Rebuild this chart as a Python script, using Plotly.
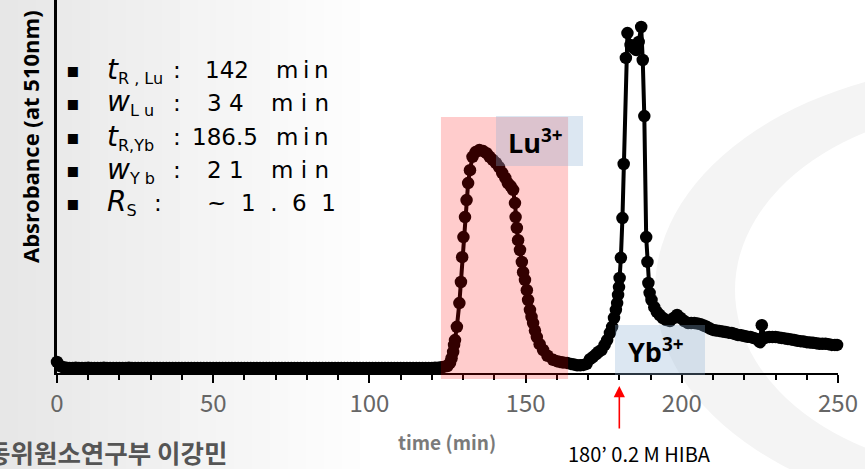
import plotly.graph_objects as go

# ---------------- data ----------------
time_min = [
    0, 1, 2, 3, 4, 5, 6, 7, 8, 9, 10, 11, 12, 13, 14, 15, 16, 17, 18, 19,
    20, 21, 22, 23, 24, 25, 26, 27, 28, 29, 30, 31, 32, 33, 34, 35, 36, 37, 38, 39,
    40, 41, 42, 43, 44, 45, 46, 47, 48, 49, 50, 51, 52, 53, 54, 55, 56, 57, 58, 59,
    60, 61, 62, 63, 64, 65, 66, 67, 68, 69, 70, 71, 72, 73, 74, 75, 76, 77, 78, 79,
    80, 81, 82, 83, 84, 85, 86, 87, 88, 89, 90, 91, 92, 93, 94, 95, 96, 97, 98, 99,
    100, 101, 102, 103, 104, 105, 106, 107, 108, 109, 110, 111, 112, 113, 114, 115,
    116, 117, 118, 119, 120, 121, 122, 123, 124, 125.0, 125.8, 126.3, 126.8,
    127.1, 127.4, 128.0, 128.8, 129.3, 129.7, 130.1, 130.6, 131.1, 131.6, 132.2,
    133.0, 134.0, 135.2, 136.4, 137.5, 138.5, 139.5, 140.5, 141.5, 142.5, 143.5,
    144.3, 145.2, 146.0, 146.6, 146.8, 147.2, 147.6, 148.2, 148.8, 149.2, 149.8,
    150.4, 150.8, 151.4, 151.9, 152.4, 153.0, 153.6, 154.5, 155.6, 157.0, 158.8,
    160.0, 161.0, 162.0, 163.3, 164.5, 165.5, 166.5, 167.5, 168.5, 169.5, 170.6,
    171.5, 172.5, 173.3, 174.3, 175.3, 176.1, 177.0, 177.7, 178.3, 178.9, 179.3,
    179.6, 179.9, 180.1, 180.5, 181.0, 181.4, 182.1, 182.6, 183.6, 184.6, 185.4,
    186.2, 187.0, 187.5, 188.0, 188.6, 189.0, 189.3, 189.7, 190.3, 191.2, 192.0,
    192.9, 193.9, 195.0, 196.2, 197.4, 198.5, 199.6, 200.8, 202, 203, 204, 205,
    206, 207, 208, 209, 210, 211, 212, 213, 214, 215, 216, 217, 218, 219, 220,
    221, 222, 223, 224, 225, 225.6, 226.4, 227, 228, 229, 230, 231, 232, 233,
    234, 235, 236, 237, 238, 239, 240, 241, 242, 243, 244, 245, 246, 247, 248,
    249, 249.7,
]
absorbance = [
    0.018, 0.006, 0.002, 0.001, 0.000, 0.000, 0.001, 0.000, 0.000, 0.000,
    0.001, 0.000, 0.000, 0.000, 0.000, 0.001, 0.000, 0.000, 0.000, 0.000,
    0.000, 0.000, 0.000, 0.001, 0.000, 0.000, 0.000, 0.000, 0.000, 0.000,
    0.000, 0.000, 0.000, 0.000, 0.000, 0.000, 0.000, 0.000, 0.000, 0.000,
    0.000, 0.000, 0.000, 0.000, 0.000, 0.000, 0.000, 0.000, 0.000, 0.000,
    0.000, 0.000, 0.000, 0.000, 0.000, 0.000, 0.000, 0.000, 0.000, 0.000,
    0.000, 0.000, 0.000, 0.000, 0.000, 0.000, 0.000, 0.000, 0.000, 0.000,
    0.000, 0.000, 0.000, 0.000, 0.000, 0.000, 0.000, 0.000, 0.000, 0.000,
    0.000, 0.000, 0.000, 0.000, 0.000, 0.000, 0.000, 0.000, 0.000, 0.000,
    0.000, 0.000, 0.000, 0.000, 0.000, 0.000, 0.000, 0.000, 0.000, 0.000,
    0.000, 0.000, 0.000, 0.000, 0.000, 0.000, 0.000, 0.000, 0.000, 0.000,
    0.000, 0.000, 0.000, 0.000, 0.000, 0.000, 0.000, 0.000, 0.000, 0.000,
    0.000, 0.001, 0.001, 0.002, 0.004, 0.006, 0.015, 0.029, 0.047,
    0.068, 0.082, 0.121, 0.191, 0.253, 0.326, 0.385, 0.444, 0.494, 0.544, 0.582,
    0.621, 0.635, 0.641, 0.638, 0.632, 0.621, 0.612, 0.603, 0.591, 0.574, 0.559,
    0.544, 0.535, 0.524, 0.485, 0.444, 0.412, 0.376, 0.347, 0.312, 0.282, 0.259,
    0.229, 0.200, 0.171, 0.150, 0.132, 0.110, 0.091, 0.070, 0.053, 0.036, 0.024,
    0.020, 0.018, 0.016, 0.015, 0.012, 0.010, 0.008, 0.008, 0.009, 0.012, 0.026,
    0.032, 0.040, 0.047, 0.053, 0.068, 0.082, 0.103, 0.121, 0.147, 0.171, 0.191,
    0.215, 0.238, 0.265, 0.324, 0.441, 0.600, 0.912, 0.985, 0.950, 0.941, 0.935,
    0.959, 1.003, 0.906, 0.741, 0.385, 0.312, 0.250, 0.221, 0.200, 0.179, 0.165,
    0.156, 0.147, 0.141, 0.138, 0.147, 0.156, 0.147, 0.138, 0.132, 0.132, 0.132, 0.131,
    0.129, 0.125, 0.121, 0.116, 0.112, 0.110, 0.109, 0.107, 0.106, 0.104, 0.103, 0.100, 0.097, 0.096, 0.094,
    0.092, 0.091, 0.088, 0.085, 0.076, 0.126, 0.088, 0.090, 0.091, 0.091, 0.091, 0.090, 0.088, 0.087,
    0.085, 0.084, 0.082, 0.080, 0.079, 0.078, 0.076, 0.075, 0.074, 0.073, 0.071, 0.071, 0.071, 0.070,
    0.068, 0.068, 0.068,
]

x_tick_vals = [0, 50, 100, 150, 200, 250]
x_tick_text = ["0", "50", "100", "150", "200", "250"]

info_symbols = ["t", "w", "t", "w", "R"]
info_subs = ["R , Lu", "L u", "R,Yb", "Y b", "S"]
info_numbers = ["142", "3 4", "186.5", "2 1", "~  1  .  6  1"]
info_units = ["m\u2009i\u2009n", "m i n", "m\u2009i\u2009n", "m i n", ""]

lu_window = [122.9, 163.6]       # shaded elution window (min)
hiba_time = 180                  # eluent switch (min)

# ---------------- layout geometry ----------------
W, H = 865, 469
ML, MR, MT, MB = 57, 27, 0, 96
PW, PH = W - ML - MR, H - MT - MB


def xp(px):
    return (px - ML) / PW


def yp(py):
    return (H - MB - py) / PH


fig = go.Figure()
fig.add_trace(go.Scatter(
    x=time_min, y=absorbance, mode="lines+markers",
    line=dict(color="black", width=4),
    marker=dict(color="black", size=12.5),
    cliponaxis=False, showlegend=False, hoverinfo="skip",
))

shapes = []
# soft grey gradient on the left (background)
for i in range(20):
    g = int(231 + i * 1.2)
    shapes.append(dict(type="rect", xref="paper", yref="paper",
                       x0=xp(i * 18), x1=xp(i * 18 + 18), y0=yp(H), y1=yp(0),
                       fillcolor=f"rgb({g},{g},{g})", line_width=0, layer="below"))
# faint watermark arc on the right
shapes.append(dict(type="circle", xref="paper", yref="paper",
                   x0=xp(655), x1=xp(1345), y0=yp(516), y1=yp(64),
                   fillcolor="#f4f4f4", line_width=0, layer="below"))
shapes.append(dict(type="circle", xref="paper", yref="paper",
                   x0=xp(735), x1=xp(1265), y0=yp(473), y1=yp(107),
                   fillcolor="white", line_width=0, layer="below"))
# pink Lu window
shapes.append(dict(type="rect", xref="x", yref="paper",
                   x0=lu_window[0], x1=lu_window[1], y0=yp(379), y1=yp(117),
                   fillcolor="rgba(255,0,0,0.2)", line_width=0, layer="above"))
# blue label boxes
shapes.append(dict(type="rect", xref="paper", yref="paper",
                   x0=xp(496), x1=xp(583), y0=yp(166), y1=yp(116),
                   fillcolor="rgba(140,177,213,0.3)", line_width=0, layer="above"))
shapes.append(dict(type="rect", xref="paper", yref="paper",
                   x0=xp(615), x1=xp(705), y0=yp(375), y1=yp(325),
                   fillcolor="rgba(140,177,213,0.3)", line_width=0, layer="above"))

ann = []
info_y = [70, 103, 137, 170, 203]
colon_x = [177, 177, 177, 177, 158]
number_x = [203, 205, 190, 205, 205]
FONT_T = "DejaVu Sans"
for i, py in enumerate(info_y):
    def a(x, text, anchor, size=23, **kw):
        ann.append(dict(xref="paper", yref="paper", x=xp(x), y=yp(py), text=text,
                        showarrow=False, xanchor=anchor, yanchor="middle",
                        font=dict(family=FONT_T, size=size, color="black"), **kw))
    a(73, "▪", "center", size=20)
    a(105, f'<span style="font-size:28px"><i>{info_symbols[i]}</i></span>'
           f'<sub><span style="font-size:16px">{info_subs[i]}</span></sub>', "left")
    a(colon_x[i], ":", "center")
    a(number_x[i], info_numbers[i], "left")
    if info_units[i]:
        a(331, info_units[i], "right")

ann.append(dict(xref="paper", yref="paper", x=xp(30), y=yp(137),
                text="Absrobance (at 510nm)", textangle=-90, showarrow=False,
                xanchor="center", yanchor="middle",
                font=dict(family="Open Sans", size=22, color="black", weight="bold")))
ann.append(dict(xref="paper", yref="paper", x=xp(535), y=yp(141),
                text="Lu<sup>3+</sup>", showarrow=False,
                xanchor="center", yanchor="middle",
                font=dict(family="Open Sans", size=27, color="black", weight="bold")))
ann.append(dict(xref="paper", yref="paper", x=xp(656), y=yp(350),
                text="Yb<sup>3+</sup>", showarrow=False,
                xanchor="center", yanchor="middle",
                font=dict(family="Open Sans", size=27, color="black", weight="bold")))
NARROW = "Noto Sans CJK KR"
ann.append(dict(xref="paper", yref="paper", x=xp(447), y=yp(441),
                text="time (min)", showarrow=False, xanchor="center", yanchor="middle",
                font=dict(family=NARROW, size=19, color="#7a7a7a", weight="bold")))
ann.append(dict(xref="paper", yref="paper", x=xp(566), y=yp(454),
                text="180\u2019 0.2 M HIBA", showarrow=False,
                xanchor="left", yanchor="middle",
                font=dict(family=NARROW, size=20, color="black")))
ann.append(dict(xref="paper", yref="paper", x=xp(229), y=yp(452),
                text="동위원소연구부 이강민", showarrow=False,
                xanchor="right", yanchor="middle",
                font=dict(family="Noto Sans CJK KR", size=25.5, color="#555555",
                          weight="bold")))
ann.append(dict(xref="x", yref="paper", x=hiba_time, y=yp(386),
                ax=0, ay=44, axref="pixel", ayref="pixel",
                text="", showarrow=True, arrowhead=2, arrowsize=1.4,
                arrowwidth=1.6, arrowcolor="red"))

fig.update_layout(
    width=W, height=H,
    margin=dict(l=ML, r=MR, t=MT, b=MB),
    paper_bgcolor="white", plot_bgcolor="rgba(0,0,0,0)",
    shapes=shapes, annotations=ann,
    xaxis=dict(range=[0, 250], showgrid=False, zeroline=False,
               showline=True, linecolor="black", linewidth=2,
               ticks="outside", tickcolor="black", tickwidth=2, ticklen=8,
               tickvals=x_tick_vals, ticktext=x_tick_text,
               minor=dict(dtick=10, tick0=0, ticks="outside", ticklen=5,
                          tickwidth=2, tickcolor="black", showgrid=False),
               tickfont=dict(family=NARROW, size=24, color="#666666")),
    yaxis=dict(range=[-0.0147, 1.0824], showgrid=False, zeroline=False,
               showline=True, linecolor="black", linewidth=3,
               showticklabels=False, ticks=""),
)

fig.write_html("out.html")
